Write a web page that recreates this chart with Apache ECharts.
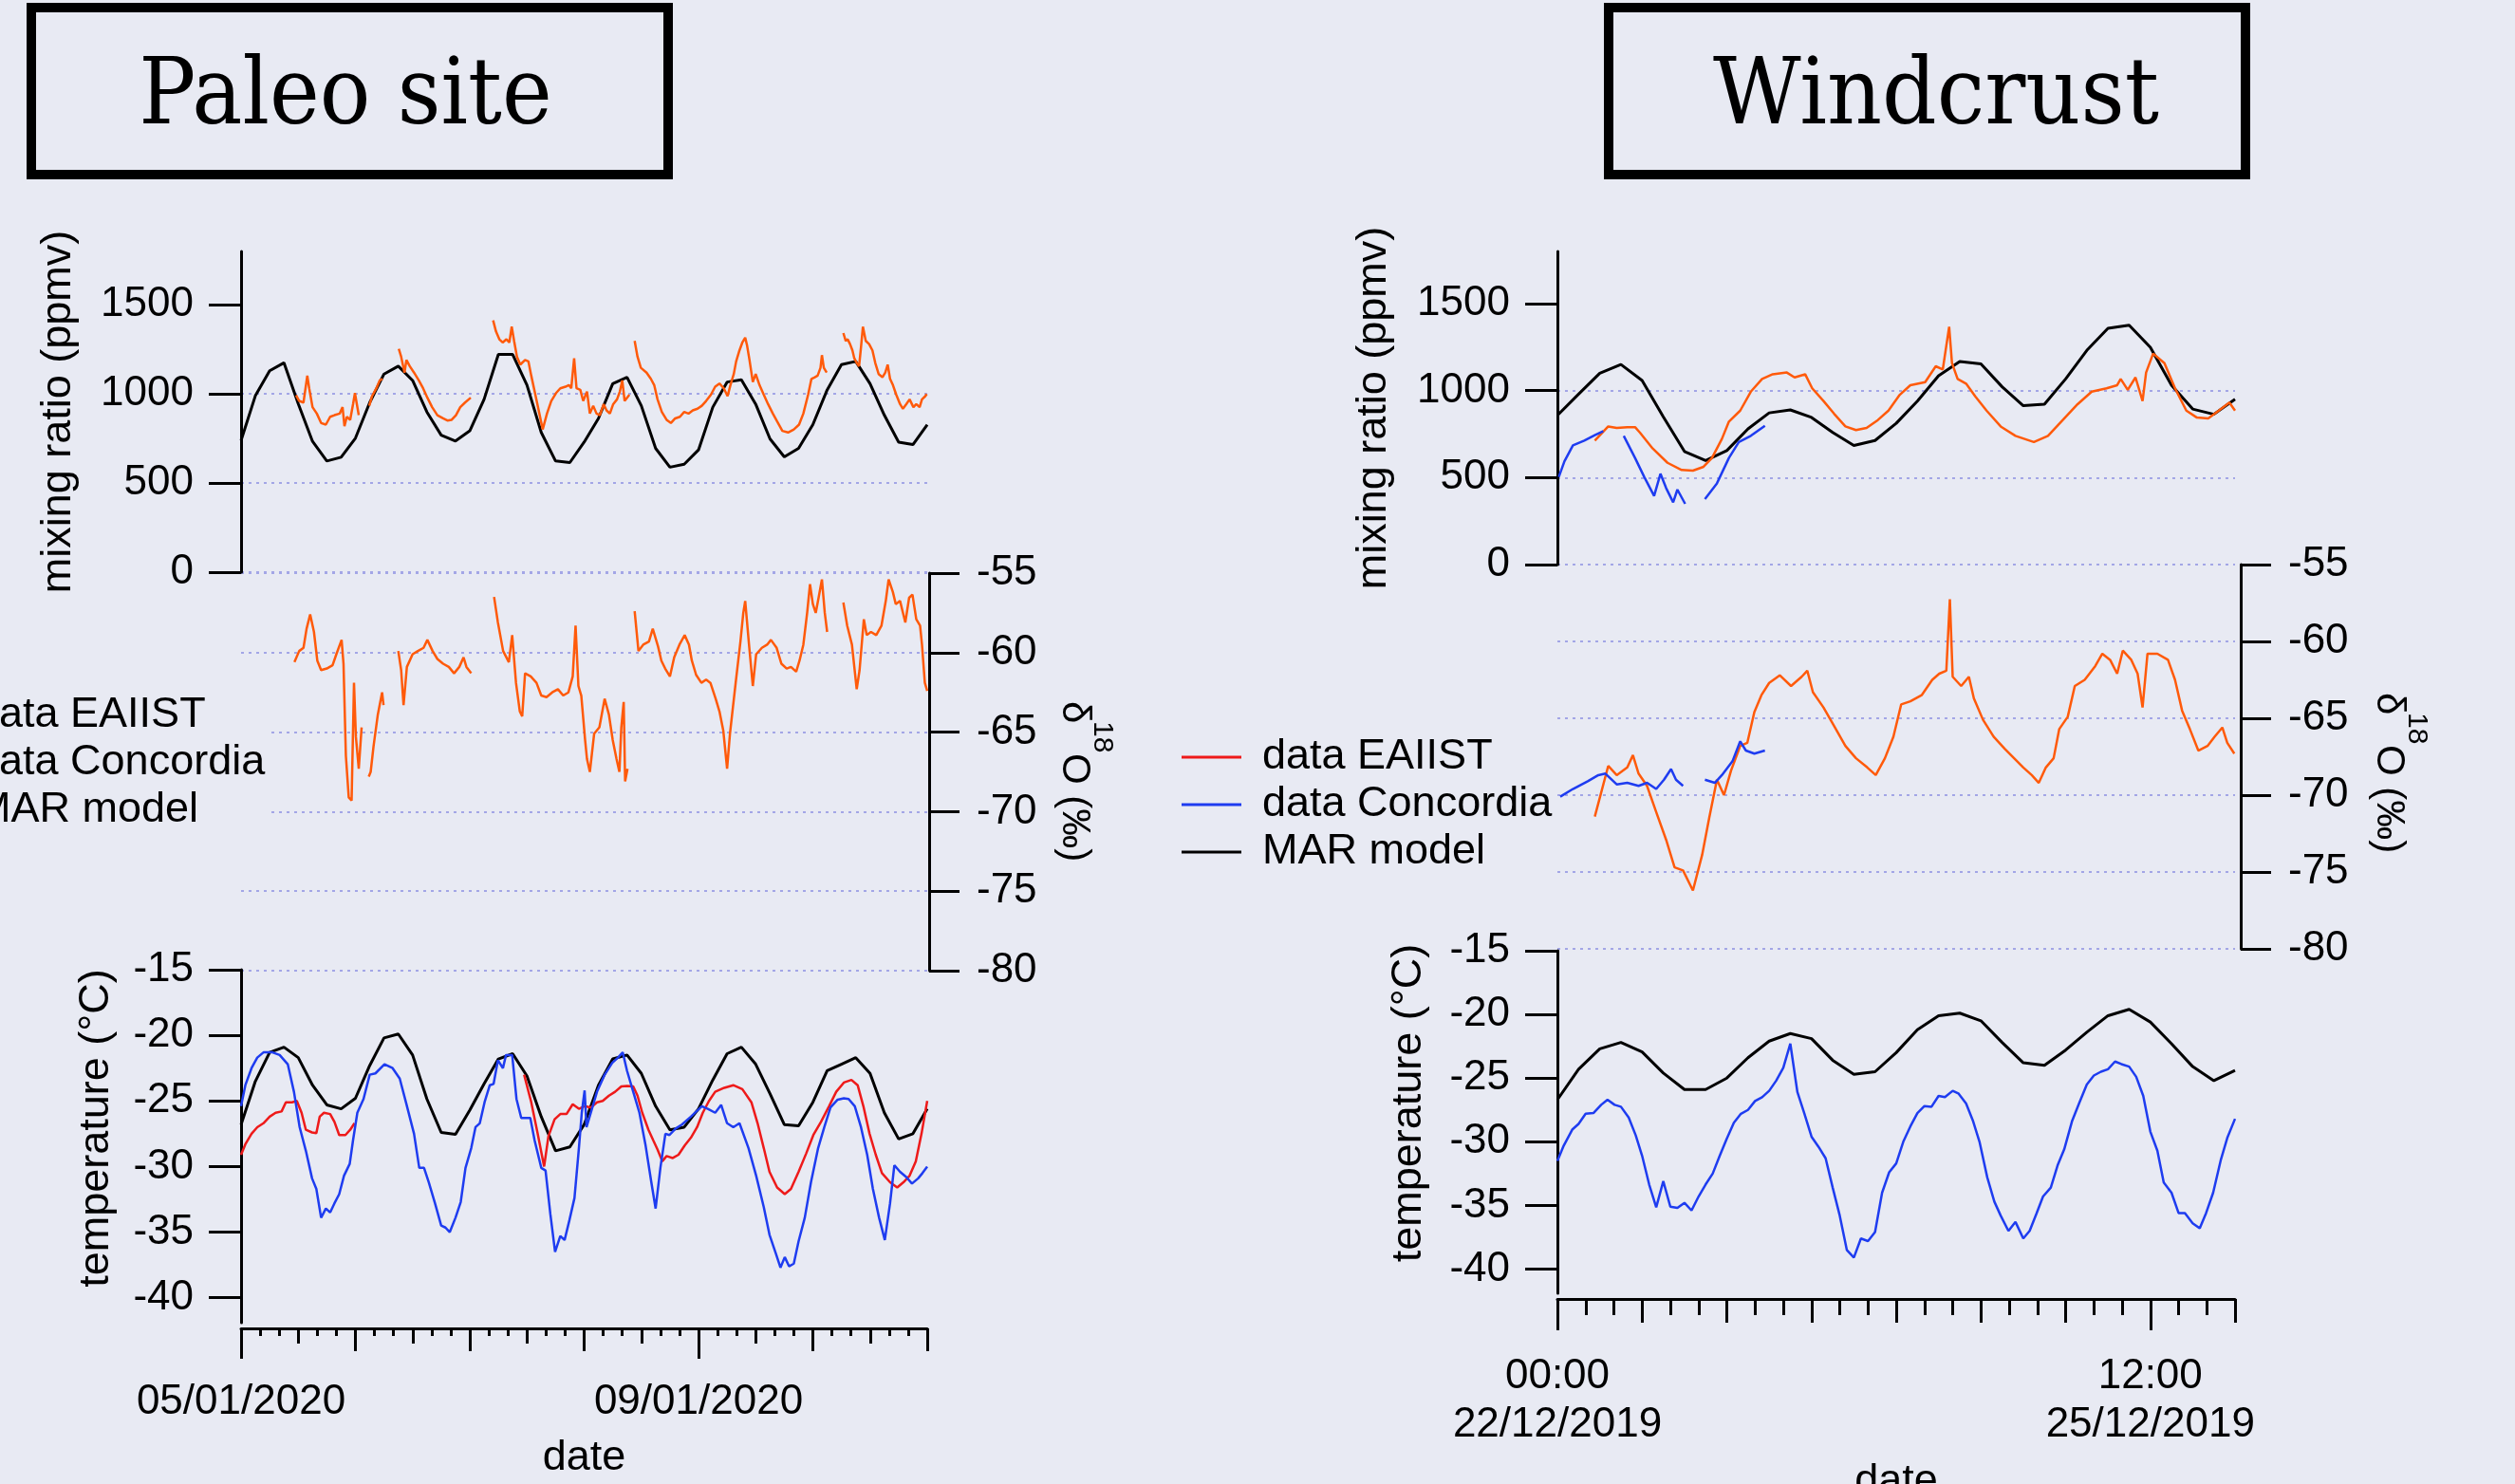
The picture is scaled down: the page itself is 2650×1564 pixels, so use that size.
<!DOCTYPE html>
<html><head><meta charset="utf-8">
<script src="https://cdn.jsdelivr.net/npm/echarts@6/dist/echarts.min.js"></script>
<style>html,body{margin:0;padding:0;background:#e8eaf3;overflow:hidden}#c{width:2650px;height:1564px}</style>
</head><body><div id="c"></div>
<script>
// ---------------- DATA (hours since start of each panel) ----------------
const MAR_STEP = 3;
// Paleo site: start 05/01/2020 00:00, 144 h
const paleoMarMR = [739,990,1130,1175,945,734,624,645,752,952,1112,1156,1076,899,769,736,793,970,1222,1222,1050,784,624,615,730,863,1058,1094,934,695,589,606,686,926,1067,1080,943,748,647,695,828,1023,1165,1183,1058,881,730,716,828];
const paleoMarT = [-26.8,-23.5,-21.3,-20.9,-21.7,-23.8,-25.3,-25.6,-24.8,-22.3,-20.2,-19.9,-21.5,-24.85,-27.4,-27.55,-25.7,-23.7,-21.8,-21.4,-23.1,-26.2,-28.8,-28.5,-26.8,-23.8,-21.8,-21.5,-22.9,-25.4,-27.2,-27.0,-25.6,-23.4,-21.4,-20.9,-22.2,-24.45,-26.8,-26.9,-25.1,-22.7,-22.2,-21.7,-22.9,-25.9,-27.9,-27.5,-25.6];
const paleoEaiistMR = [
 [[11.55,993],[12.2,961],[13.1,952],[13.9,1103],[14.3,1032],[15.0,926],[15.9,890],[16.8,837],[17.8,828],[18.7,872],[19.6,881],[20.7,890],[21.3,926],[21.7,819],[22.2,872],[22.9,855],[23.5,943],[23.9,1005],[24.3,943],[24.7,881]],
 [[26.9,934],[27.5,988],[28.4,1032],[29.1,1076],[29.7,1085]],
 [[33.1,1254],[33.6,1209],[34.3,1120],[34.7,1191],[35.4,1156],[36.3,1120],[37.3,1076],[38.2,1032],[39.1,979],[40.1,926],[41.2,881],[42.4,863],[43.3,851],[44.2,855],[45.1,881],[46.0,926],[47.0,952],[48.2,979]],
 [[52.9,1413],[53.5,1351],[54.2,1307],[54.9,1289],[55.7,1307],[56.3,1289],[56.8,1378],[57.3,1298],[57.9,1209],[58.6,1165],[59.6,1191],[60.3,1183],[60.9,1103],[61.9,979],[62.6,890],[63.3,801],[64.2,890],[65.1,961],[66.1,1005],[67.0,1032],[68.1,1041],[68.8,1050],[69.3,1032],[69.9,1200],[70.4,1032],[71.2,1023],[71.8,961],[72.6,1014],[73.2,890],[73.9,934],[74.6,890],[75.3,881],[76.1,943],[76.7,908],[77.4,890],[78.1,943],[78.9,970],[79.5,1014],[80.0,1076],[80.5,961],[81.0,979],[81.5,996]],
 [[82.6,1298],[83.2,1209],[83.9,1147],[85.1,1120],[86.0,1085],[86.7,1050],[87.4,970],[88.3,899],[89.3,855],[90.2,837],[91.1,863],[92.1,872],[93.0,899],[93.9,890],[94.8,908],[95.8,917],[96.7,934],[97.6,961],[98.6,996],[99.5,1041],[100.4,1059],[101.3,1032],[102.1,988],[102.7,1050],[103.4,1112],[103.9,1183],[104.6,1245],[105.2,1289],[105.8,1316],[106.2,1271],[106.7,1191],[107.4,1067],[108.0,1112],[108.8,1050],[109.7,996],[110.6,943],[111.6,890],[112.5,846],[113.6,793],[114.8,784],[116.0,801],[117.1,828],[118.0,890],[119.0,996],[119.7,1085],[120.4,1094],[121.0,1103],[121.6,1147],[121.9,1218],[122.3,1147],[122.9,1120]],
 [[126.4,1342],[126.9,1298],[127.3,1307],[127.8,1280],[128.3,1245],[128.7,1200],[129.2,1174],[129.7,1156],[130.1,1262],[130.5,1378],[131.1,1298],[131.8,1280],[132.5,1245],[133.1,1174],[133.8,1112],[134.6,1094],[135.2,1120],[135.7,1165],[136.2,1085],[136.8,1050],[137.5,996],[138.3,943],[138.9,917],[139.6,943],[140.3,970],[141.1,926],[141.7,943],[142.4,926],[142.9,970],[143.6,988],[143.9,1000]]
];
const paleoEaiistD = [
 [[11.2,-60.6],[12.2,-59.9],[13.1,-59.7],[13.75,-58.5],[14.5,-57.6],[15.3,-58.7],[16.0,-60.5],[16.8,-61.1],[18.0,-61.0],[19.2,-60.8],[20.0,-60.1],[21.1,-59.2],[21.5,-60.7],[22.0,-66.5],[22.6,-69.1],[23.2,-69.3],[23.7,-61.9],[24.1,-65.3],[24.7,-67.3],[25.3,-64.7]],
 [[26.8,-67.8],[27.2,-67.5],[27.8,-65.9],[28.7,-63.9],[29.6,-62.5],[29.9,-63.3]],
 [[33.0,-59.9],[33.6,-61.1],[34.1,-63.3],[34.8,-60.9],[36.0,-60.1],[37.1,-59.9],[38.3,-59.7],[39.1,-59.2],[40.2,-59.9],[41.2,-60.4],[42.4,-60.7],[43.6,-60.9],[44.7,-61.3],[45.8,-60.9],[46.7,-60.3],[47.3,-60.9],[48.3,-61.3]],
 [[53.1,-56.5],[53.9,-58.1],[55.0,-59.9],[56.2,-60.6],[56.9,-58.9],[57.7,-61.9],[58.5,-63.7],[59.0,-64.0],[59.6,-61.3],[60.8,-61.5],[62.0,-61.9],[63.0,-62.7],[64.1,-62.8],[65.3,-62.5],[66.5,-62.3],[67.6,-62.7],[68.7,-62.5],[69.6,-61.5],[70.2,-58.3],[70.8,-62.1],[71.4,-62.7],[72.2,-65.5],[72.6,-66.7],[73.2,-67.5],[74.1,-65.1],[75.2,-64.7],[76.3,-62.9],[77.2,-63.9],[78.0,-65.5],[78.8,-66.7],[79.4,-67.5],[79.8,-64.7],[80.3,-63.1],[80.6,-68.1],[81.1,-67.3]],
 [[82.6,-57.4],[83.4,-59.9],[84.4,-59.5],[85.6,-59.3],[86.4,-58.5],[87.5,-59.6],[88.2,-60.5],[89.0,-61.0],[90.0,-61.5],[90.9,-60.3],[92.0,-59.5],[93.1,-58.9],[94.0,-59.5],[94.6,-60.5],[95.5,-61.4],[96.6,-61.9],[97.6,-61.7],[98.5,-61.9],[99.6,-62.9],[100.4,-63.7],[101.2,-64.9],[102.0,-67.3],[102.6,-65.1],[103.2,-63.5],[103.8,-61.9],[104.8,-59.3],[105.4,-57.5],[105.8,-56.75],[106.6,-59.5],[107.4,-62.1],[108.1,-60.1],[109.3,-59.7],[110.4,-59.5],[111.2,-59.2],[112.4,-59.7],[113.4,-60.7],[114.5,-61.0],[115.4,-60.9],[116.5,-61.2],[117.2,-60.5],[118.0,-59.5],[118.8,-57.5],[119.4,-55.7],[120.0,-56.95],[120.6,-57.5],[121.2,-56.55],[121.9,-55.4],[122.5,-57.5],[123.0,-58.7]],
 [[126.4,-56.85],[127.2,-58.3],[128.2,-59.5],[129.2,-62.3],[129.8,-61.1],[130.7,-57.9],[131.3,-58.9],[132.2,-58.7],[133.3,-58.9],[134.4,-58.3],[135.3,-56.75],[135.9,-55.4],[136.8,-56.2],[137.4,-56.95],[138.3,-56.75],[139.4,-58.1],[140.2,-56.55],[140.9,-56.35],[141.7,-57.9],[142.5,-58.3],[142.9,-59.5],[143.5,-61.9],[144,-62.4]]
];
const paleoEaiistT = [
 [[0,-29.1],[0.9,-28.3],[2.2,-27.5],[3.4,-27.0],[4.7,-26.7],[6.0,-26.2],[7.25,-25.9],[8.5,-25.8],[9.4,-25.1],[10.7,-25.1],[11.7,-25.0],[12.7,-25.9],[13.6,-27.2],[14.9,-27.4],[15.8,-27.45],[16.5,-26.2],[17.4,-25.9],[18.7,-26.0],[19.6,-26.6],[20.6,-27.6],[21.9,-27.6],[22.9,-27.2],[23.8,-26.7]],
 [[59.4,-23.0],[60.9,-25.1],[62.2,-27.4],[63.6,-30.0],[64.5,-27.7],[65.8,-26.4],[67.0,-26.0],[68.3,-26.0],[69.6,-25.25],[70.9,-25.6],[72.1,-25.4],[73.4,-25.5],[74.7,-25.1],[75.9,-25.0],[77.2,-24.6],[78.5,-24.3],[79.8,-23.9],[81.0,-23.85],[82.3,-23.9],[83.2,-24.6],[84.2,-25.9],[85.5,-27.2],[86.5,-28.0],[87.4,-28.7],[88.4,-29.6],[89.3,-29.2],[90.6,-29.35],[91.8,-29.1],[93.1,-28.4],[94.4,-27.8],[95.7,-27.0],[96.9,-25.9],[98.2,-25.0],[99.5,-24.3],[101.4,-24.0],[103.3,-23.8],[105.2,-24.1],[107.1,-25.1],[108.4,-26.7],[109.7,-28.6],[110.9,-30.4],[112.5,-31.6],[114.1,-32.1],[115.4,-31.7],[117.0,-30.4],[118.6,-29.0],[120.1,-27.6],[121.7,-26.6],[123.4,-25.4],[124.9,-24.3],[126.5,-23.6],[128.1,-23.4],[129.4,-23.8],[130.6,-25.4],[131.9,-27.5],[133.2,-29.1],[134.5,-30.5],[136.2,-31.2],[137.7,-31.6],[139.0,-31.2],[140.3,-30.7],[141.6,-29.6],[142.8,-27.5],[144,-25.0]]
];
const paleoConcT = [[0,-25.4],[0.9,-23.8],[2.2,-22.5],[3.4,-21.7],[4.7,-21.3],[6.6,-21.3],[8.1,-21.5],[9.8,-22.2],[11.1,-24.3],[12.3,-27.0],[13.6,-28.8],[14.9,-30.9],[15.8,-31.7],[16.8,-33.9],[17.8,-33.2],[18.7,-33.5],[19.6,-32.8],[20.6,-32.1],[21.6,-30.7],[22.8,-29.8],[23.5,-28.0],[24.4,-25.9],[25.7,-24.85],[27.0,-23.0],[28.2,-22.9],[30.1,-22.2],[31.8,-22.5],[33.3,-23.3],[34.6,-25.1],[36.3,-27.5],[37.4,-30.1],[38.4,-30.1],[39.4,-31.2],[40.7,-32.8],[42.0,-34.5],[42.9,-34.65],[43.8,-35.0],[45.0,-33.9],[46.1,-32.7],[47.1,-30.1],[48.3,-28.6],[49.2,-27.0],[50.1,-26.7],[51.1,-25.1],[52.2,-23.8],[53.0,-23.7],[53.9,-21.9],[54.96,-22.5],[55.6,-21.5],[56.9,-21.5],[57.8,-24.85],[58.8,-26.3],[60.7,-26.3],[61.6,-28.0],[63.0,-30.1],[63.9,-30.3],[64.9,-33.6],[65.9,-36.5],[67.0,-35.3],[67.9,-35.6],[68.9,-34.1],[69.97,-32.4],[70.9,-28.6],[71.5,-25.9],[72.1,-24.2],[72.5,-27.0],[73.4,-25.9],[74.7,-24.3],[76.3,-23.0],[77.9,-22.1],[79.1,-21.7],[80.1,-21.3],[81.0,-22.7],[82.3,-24.3],[83.6,-25.9],[84.85,-28.3],[86.1,-31.2],[87.0,-33.2],[88.0,-30.1],[89.05,-27.5],[89.9,-27.6],[91.2,-27.1],[92.5,-26.8],[94.4,-26.2],[96.7,-25.4],[97.95,-25.6],[99.5,-25.9],[100.75,-25.3],[102.0,-26.7],[103.3,-27.0],[104.6,-26.7],[106.5,-28.6],[108.1,-30.7],[109.7,-33.1],[110.9,-35.2],[112.2,-36.6],[113.2,-37.7],[114.1,-36.9],[115.0,-37.6],[116.0,-37.4],[117.0,-35.7],[118.3,-33.9],[119.6,-31.2],[121.1,-28.6],[122.4,-27.0],[123.7,-25.5],[125.2,-24.9],[126.5,-24.8],[127.5,-24.85],[128.8,-25.4],[130.1,-27.0],[131.4,-29.1],[132.6,-31.7],[133.9,-33.9],[135.1,-35.6],[136.2,-32.8],[137.1,-29.9],[138.3,-30.4],[139.6,-30.8],[140.8,-31.3],[142.1,-30.9],[143.0,-30.5],[144,-30.0]];

// Windcrust: start 22/12/2019 00:00, 96 h
const windMarMR = [858,980,1100,1150,1058,850,650,598,655,780,872,889,846,760,685,713,812,940,1085,1167,1154,1022,913,922,1067,1231,1358,1376,1249,1031,894,864,950];
const windMarT = [-26.7,-24.3,-22.7,-22.2,-22.95,-24.6,-25.9,-25.9,-25.0,-23.4,-22.1,-21.5,-21.9,-23.6,-24.7,-24.5,-23.0,-21.2,-20.1,-19.9,-20.5,-22.2,-23.8,-24.0,-22.8,-21.4,-20.1,-19.6,-20.6,-22.3,-24.1,-25.2,-24.4];
const windEaiistMR = [[[5.3,713],[7.2,794],[8.4,785],[9.9,790],[11.0,790],[11.7,758],[13.5,667],[15.6,585],[17.6,544],[19.2,540],[20.7,562],[21.9,613],[23.3,722],[24.3,822],[25.9,885],[27.4,994],[29.0,1067],[30.5,1094],[32.5,1104],[33.6,1076],[35.1,1094],[36.1,1013],[37.7,940],[39.2,867],[40.8,794],[42.3,773],[43.8,785],[45.4,831],[46.9,885],[48.5,976],[50.0,1031],[52.1,1049],[53.6,1140],[54.6,1122],[55.5,1367],[55.9,1158],[56.7,1067],[57.9,1040],[59.2,967],[60.8,885],[62.8,794],[64.9,740],[67.5,704],[69.5,740],[71.6,831],[73.7,922],[75.7,994],[77.8,1013],[79.3,1031],[79.8,1067],[80.8,1004],[81.9,1076],[82.9,940],[83.4,1104],[84.4,1213],[86.0,1158],[87.5,1013],[89.1,885],[90.6,845],[92.2,840],[93.7,885],[95.2,931],[96,885]]];
const windConcMR = [
 [[0.2,504],[1.0,594],[2.2,685],[3.8,713],[5.3,744],[6.5,767]],
 [[9.4,740],[11.0,613],[12.3,504],[13.7,395],[14.6,522],[15.4,440],[16.4,358],[17.0,431],[18.1,349]],
 [[20.9,376],[22.6,467],[24.3,613],[25.7,704],[27.4,740],[29.4,798]]
];
const windEaiistD = [[[5.3,-71.4],[7.2,-68.1],[8.4,-68.7],[9.9,-68.2],[10.7,-67.4],[11.5,-68.6],[12.7,-69.4],[14.0,-71.1],[15.4,-72.9],[16.6,-74.7],[17.8,-74.9],[19.2,-76.2],[20.5,-73.9],[21.5,-71.5],[22.6,-69.0],[23.6,-70.0],[24.6,-68.4],[25.9,-66.8],[26.9,-66.6],[27.9,-64.6],[28.9,-63.5],[30.0,-62.7],[31.5,-62.2],[33.1,-62.9],[34.6,-62.3],[35.4,-61.9],[36.2,-63.3],[37.7,-64.3],[39.2,-65.5],[40.8,-66.8],[42.3,-67.6],[43.9,-68.2],[45.1,-68.7],[46.4,-67.6],[47.6,-66.2],[48.7,-64.1],[50.0,-63.9],[51.6,-63.5],[53.1,-62.5],[54.1,-62.1],[55.1,-61.9],[55.6,-57.25],[56.0,-62.3],[57.2,-62.9],[58.3,-62.3],[59.0,-63.7],[60.3,-65.1],[61.8,-66.2],[63.4,-67.0],[64.7,-67.6],[66.0,-68.2],[67.2,-68.7],[68.2,-69.2],[69.2,-68.2],[70.3,-67.6],[71.1,-65.7],[72.3,-64.9],[73.3,-62.9],[74.7,-62.5],[76.2,-61.6],[77.2,-60.8],[78.3,-61.2],[79.3,-62.1],[80.1,-60.6],[81.3,-61.2],[82.2,-62.1],[82.9,-64.3],[83.6,-60.8],[85.0,-60.8],[86.5,-61.2],[87.5,-62.5],[88.5,-64.5],[89.6,-65.7],[90.8,-67.1],[92.1,-66.8],[93.1,-66.2],[94.2,-65.6],[94.9,-66.6],[95.9,-67.3]]];
const windConcD = [
 [[0.4,-70.1],[2.2,-69.6],[4.3,-69.1],[5.8,-68.7],[6.8,-68.6],[8.4,-69.3],[9.9,-69.2],[11.5,-69.4],[12.7,-69.2],[14.0,-69.6],[15.1,-69.0],[16.1,-68.3],[16.8,-69.0],[17.8,-69.4]],
 [[20.9,-69.0],[22.3,-69.2],[23.3,-68.7],[24.8,-67.8],[25.9,-66.5],[26.7,-67.1],[27.9,-67.3],[29.4,-67.1]]
];
const windConcT = [[0,-31.5],[0.9,-30.3],[2.1,-29.05],[3.0,-28.6],[4.0,-27.8],[5.1,-27.75],[6.2,-27.1],[7.1,-26.7],[8.1,-27.1],[9.0,-27.25],[10.1,-28.1],[11.1,-29.5],[12.0,-31.1],[13.0,-33.35],[14.0,-35.15],[15.0,-33.1],[16.0,-35.1],[17.0,-35.2],[18.0,-34.8],[19.0,-35.4],[20.0,-34.3],[21.0,-33.35],[22.0,-32.5],[23.0,-31.1],[24.0,-29.75],[25.0,-28.5],[26.0,-27.8],[27.0,-27.5],[28.0,-26.8],[29.0,-26.5],[30.0,-26.0],[31.0,-25.2],[32.0,-24.2],[33.0,-22.3],[34.0,-26.1],[35.0,-27.8],[36.0,-29.6],[37.0,-30.4],[38.0,-31.3],[39.0,-33.6],[40.0,-35.8],[41.0,-38.5],[42.0,-39.1],[43.0,-37.6],[44.0,-37.8],[45.0,-37.1],[46.0,-34.0],[47.0,-32.4],[48.0,-31.7],[49.0,-30.0],[50.0,-28.8],[51.0,-27.75],[52.0,-27.2],[53.0,-27.25],[54.0,-26.4],[54.9,-26.5],[56.0,-26.0],[56.8,-26.2],[57.9,-27.0],[58.9,-28.4],[59.8,-30.0],[60.9,-32.8],[61.9,-34.7],[62.8,-35.8],[63.9,-37.0],[64.9,-36.3],[66.0,-37.6],[66.9,-37.0],[67.9,-35.6],[68.8,-34.3],[69.9,-33.6],[70.9,-31.8],[71.8,-30.6],[72.9,-28.4],[73.9,-27.0],[75.0,-25.5],[76.0,-24.8],[77.0,-24.5],[78.0,-24.3],[79.0,-23.7],[79.9,-23.9],[81.0,-24.1],[82.0,-24.9],[83.0,-26.4],[84.0,-29.2],[85.0,-30.7],[85.9,-33.2],[87.0,-34.0],[88.0,-35.6],[88.9,-35.6],[90.0,-36.4],[91.0,-36.8],[91.9,-35.6],[92.9,-34.0],[94.0,-31.4],[94.9,-29.7],[96,-28.2]];

// tick labels
const paleoSpanHours = 144, windSpanHours = 96;
const paleoLabelHours = [0, 96];
const paleoLabelTexts = ['05/01/2020', '09/01/2020'];
const windLabelHours = [0, 84];
const windLabelTexts = ['00:00\n22/12/2019', '12:00\n25/12/2019'];
const mrTickValues = [0, 500, 1000, 1500];
const tempTickValues = [-40, -35, -30, -25, -20, -15];
const seriesNames = ['data EAIIST', 'data Concordia', 'MAR model'];
const panelTitles = ['Paleo site', 'Windcrust'];

// ---------------- helpers ----------------
const FONT = "'Liberation Sans', Arial, sans-serif";
const BG = '#e8eaf3';
const ORANGE = '#ff5a0a', RED = '#ee1a1a', BLUE = '#1e3cf0', BLACK = '#000000';
const GRIDC = '#a3a6e6';
const every = (step, span) => { const a = []; for (let h = 0; h <= span; h += step) a.push(h); return a; };
const marPairs = vals => vals.map((v, i) => [i * MAR_STEP, v]);
const joinSegs = segs => { const out = []; segs.forEach((s, i) => { if (i) out.push([(segs[i-1][segs[i-1].length-1][0] + s[0][0]) / 2, '-']); out.push(...s); }); return out; };
const axLine = { show: true, onZero: false, lineStyle: { color: '#000', width: 3 } };
const tickLS = { color: '#000', width: 3 };
const plain = v => String(v);
const lbl = (o) => Object.assign({ fontSize: 44, color: '#000', fontFamily: FONT }, o);
const nameTS = (o) => Object.assign({ fontSize: 45, color: '#000', fontFamily: FONT }, o);
const gridSplit = { show: true, lineStyle: { color: GRIDC, width: 2, type: [3, 5] } };

function hiddenX(g, span) { return { type: 'value', gridIndex: g, min: 0, max: span, show: false }; }
function tierX(g, span, offset, ticks, len) {
  return { type: 'value', gridIndex: g, min: 0, max: span, position: 'bottom', offset,
    axisLine: { show: false }, axisTick: { show: true, length: len, customValues: ticks, lineStyle: tickLS },
    axisLabel: { show: false }, splitLine: { show: false } };
}
function mainX(g, span, offset, hours, texts, len, nameGap, margin) {
  return { type: 'value', gridIndex: g, min: 0, max: span, position: 'bottom', offset,
    axisLine: axLine, axisTick: { show: true, length: len, customValues: hours, lineStyle: tickLS },
    axisLabel: lbl({ customValues: hours, margin, lineHeight: 51, align: 'center',
      formatter: v => { const i = hours.indexOf(v); return i >= 0 ? texts[i] : ''; } }),
    splitLine: { show: false }, name: 'date', nameLocation: 'middle', nameGap, nameTextStyle: nameTS({}) };
}
function mrY(g, nameGap) {
  return { type: 'value', gridIndex: g, position: 'left', min: 0, max: 1800, interval: 500,
    name: 'mixing ratio (ppmv)', nameLocation: 'middle', nameGap, nameRotate: 90, nameTextStyle: nameTS({}),
    axisLine: axLine, axisTick: { show: true, length: 34, customValues: mrTickValues, lineStyle: tickLS },
    axisLabel: lbl({ customValues: mrTickValues, margin: 50, formatter: plain }),
    splitLine: Object.assign({ showMaxLine: false }, gridSplit) };
}
function dY(g, offset) {
  return { type: 'value', gridIndex: g, position: 'right', offset, min: -80, max: -55, interval: 5,
    axisLine: axLine, axisTick: { show: true, length: 32, lineStyle: tickLS },
    axisLabel: lbl({ margin: 50, formatter: plain }), splitLine: gridSplit };
}
function tY(g, nameGap, pad) {
  return { type: 'value', gridIndex: g, position: 'left', min: -41.9, max: -15,
    name: 'temperature (°C)', nameLocation: 'middle', nameGap, nameRotate: 90, nameTextStyle: nameTS({ padding: [0, 0, 0, pad] }),
    axisLine: axLine, axisTick: { show: true, length: 34, customValues: tempTickValues, lineStyle: tickLS },
    axisLabel: lbl({ customValues: tempTickValues, margin: 50, formatter: plain }), splitLine: { show: false } };
}
function line(name, x, y, data, color, width) {
  return { type: 'line', name, xAxisIndex: x, yAxisIndex: y, data, color, showSymbol: false, symbol: 'none',
    connectNulls: false, lineStyle: { color, width }, emphasis: { disabled: true }, animation: false };
}
function deltaTitle(x, y) {
  return { type: 'group', x, y, rotation: -Math.PI / 2, children: [
    { type: 'text', x: 0, y: -17, style: { text: 'δ', fontSize: 42, fontFamily: FONT, fill: '#000', textAlign: 'left', textVerticalAlign: 'middle' } },
    { type: 'text', x: 21, y: -46, style: { text: '18', fontSize: 30, fontFamily: FONT, fill: '#000', textAlign: 'left', textVerticalAlign: 'middle' } },
    { type: 'text', x: 55, y: -17, style: { text: 'O (‰)', fontSize: 42, fontFamily: FONT, fill: '#000', textAlign: 'left', textVerticalAlign: 'middle' } }
  ] };
}
const legendData = [
  { name: seriesNames[0], itemStyle: { color: RED } },
  { name: seriesNames[1], itemStyle: { color: BLUE } },
  { name: seriesNames[2], itemStyle: { color: BLACK } }
];
function legendAt(left, top, bg) {
  return { orient: 'vertical', left, top, padding: [10, 6, 10, 10], backgroundColor: bg, itemWidth: 63, itemHeight: 3, itemGap: 0,
    icon: 'rect', selectedMode: false, data: legendData, z: 6,
    textStyle: { fontSize: 45, lineHeight: 50, color: '#000', fontFamily: FONT, padding: [0, 0, 0, 17] } };
}
function titleBox(x, cx, text, sx) {
  return [
    { type: 'rect', shape: { x, y: 8, width: 671, height: 176 }, style: { fill: 'transparent', stroke: '#000', lineWidth: 10 }, z: 10 },
    { type: 'text', x: cx, y: 105, scaleX: sx, style: { text, fontSize: 98, fontFamily: "'DejaVu Serif', serif", fill: '#000', textAlign: 'center', textVerticalAlign: 'middle' }, z: 10 }
  ];
}
const gridBox = (left, top, width, height) => ({ left, top, width, height, containLabel: false, outerBoundsMode: 'none' });

const option = {
  backgroundColor: BG,
  animation: false,
  textStyle: { fontFamily: FONT },
  grid: [
    gridBox(254, 265, 723, 338),
    gridBox(254, 604, 723, 419),
    gridBox(254, 1022, 723, 372),
    gridBox(1641, 265, 714, 330),
    gridBox(1641, 595, 714, 405),
    gridBox(1641, 1002, 714, 361)
  ],
  xAxis: [
    hiddenX(0, paleoSpanHours),
    hiddenX(1, paleoSpanHours),
    mainX(2, paleoSpanHours, 6, paleoLabelHours, paleoLabelTexts, 32, 114, 52),
    tierX(2, paleoSpanHours, 6, every(24, paleoSpanHours), 24),
    tierX(2, paleoSpanHours, 6, every(12, paleoSpanHours), 16),
    tierX(2, paleoSpanHours, 6, every(4, paleoSpanHours), 8),
    hiddenX(3, windSpanHours),
    hiddenX(4, windSpanHours),
    mainX(5, windSpanHours, 6, windLabelHours, windLabelTexts, 33, 170, 56),
    tierX(5, windSpanHours, 6, every(12, windSpanHours), 25),
    tierX(5, windSpanHours, 6, every(4, windSpanHours), 17)
  ],
  yAxis: [
    mrY(0, 170),
    dY(1, 2),
    tY(2, 130, 38),
    mrY(3, 171),
    dY(4, 6),
    tY(5, 134, 40)
  ],
  legend: [
    legendAt(1235, 763, 'transparent'),
    legendAt(-121, 719, BG)
  ],
  graphic: [
    ...titleBox(33, 364, panelTitles[0], 0.91),
    ...titleBox(1695, 2040, panelTitles[1], 0.92),
    deltaTitle(1115, 739),
    deltaTitle(2500, 730)
  ],
  series: [
    line(seriesNames[2], 0, 0, marPairs(paleoMarMR), BLACK, 3),
    line(seriesNames[0], 0, 0, joinSegs(paleoEaiistMR), ORANGE, 2.5),
    line(seriesNames[0], 1, 1, joinSegs(paleoEaiistD), ORANGE, 2.5),
    line(seriesNames[2], 2, 2, marPairs(paleoMarT), BLACK, 3),
    line(seriesNames[0], 2, 2, joinSegs(paleoEaiistT), RED, 2.5),
    line(seriesNames[1], 2, 2, paleoConcT, BLUE, 2.5),
    line(seriesNames[2], 6, 3, marPairs(windMarMR), BLACK, 3),
    line(seriesNames[0], 6, 3, joinSegs(windEaiistMR), ORANGE, 2.5),
    line(seriesNames[1], 6, 3, joinSegs(windConcMR), BLUE, 2.5),
    line(seriesNames[0], 7, 4, joinSegs(windEaiistD), ORANGE, 2.5),
    line(seriesNames[1], 7, 4, joinSegs(windConcD), BLUE, 2.5),
    line(seriesNames[2], 8, 5, marPairs(windMarT), BLACK, 3),
    line(seriesNames[1], 8, 5, windConcT, BLUE, 2.5)
  ]
};
const chart = echarts.init(document.getElementById('c'), null, { renderer: 'canvas' });
chart.setOption(option);
</script></body></html>
